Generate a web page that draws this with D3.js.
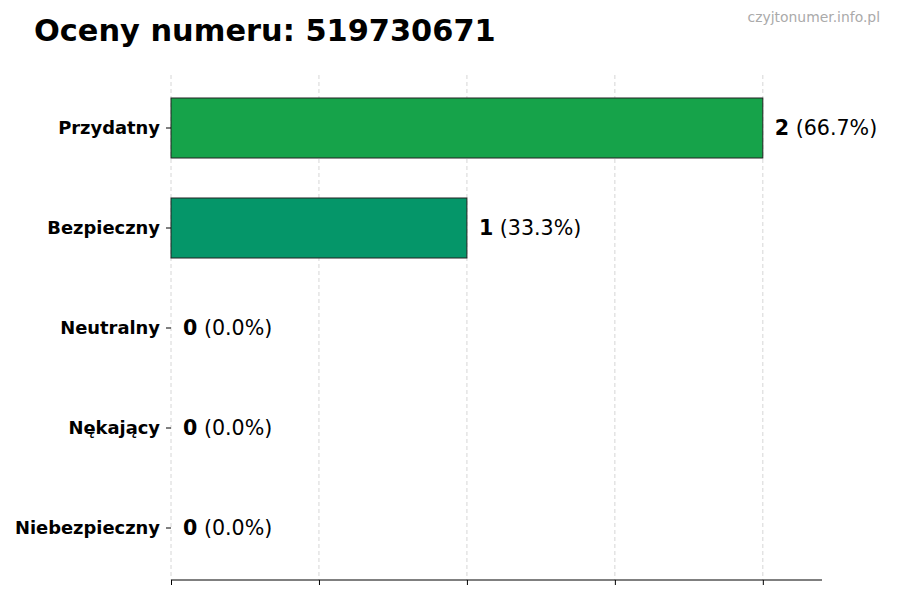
<!DOCTYPE html>
<html><head><meta charset="utf-8">
<script src="https://cdn.jsdelivr.net/npm/d3@7"></script>
<style>body{margin:0;background:#fff}svg{font-family:"DejaVu Sans",sans-serif}</style>
</head><body>
<svg id="c" width="900" height="600"></svg>
<script>
const categories = ["Przydatny","Bezpieczny","Neutralny","Nękający","Niebezpieczny"];
const counts = [2,1,0,0,0];
const percents = ["66.7%","33.3%","0.0%","0.0%","0.0%"];
const colors = ["#16a34a","#059669","#6b7280","#ea580c","#dc2626"];
const xTicks = [0,0.5,1,1.5,2];

const svg = d3.select("#c");
const x = d3.scaleLinear().domain([0,2.2]).range([171,822]);
const y = d3.scaleBand().domain(categories).range([78,578]).paddingInner(0.4).paddingOuter(0.2);

svg.append("text").attr("x",34).attr("y",41).attr("font-size",30.4).attr("font-weight","bold").text("Oceny numeru: 519730671");
svg.append("text").attr("x",880).attr("y",22).attr("text-anchor","end").attr("font-size",13.9).attr("fill","#aaa").text("czyjtonumer.info.pl");

svg.append("g").selectAll("line").data(xTicks).join("line")
  .attr("x1",d=>x(d)).attr("x2",d=>x(d)).attr("y1",75).attr("y2",580)
  .attr("stroke","#ccc").attr("stroke-dasharray","4,3").attr("stroke-width",0.8);

svg.append("g").selectAll("rect").data(categories).join("rect")
  .attr("x",x(0)).attr("y",d=>y(d)).attr("height",y.bandwidth())
  .attr("width",(d,i)=>x(counts[i])-x(0))
  .attr("fill",(d,i)=>colors[i]).attr("stroke","#222").attr("stroke-width",1);

const lab = svg.append("g").selectAll("text").data(categories).join("text")
  .attr("x",(d,i)=>x(counts[i])+12).attr("y",d=>y(d)+y.bandwidth()/2).attr("dy","0.35em")
  .attr("font-size",20.6);
lab.append("tspan").attr("font-weight","bold").text((d,i)=>counts[i]);
lab.append("tspan").text((d,i)=>" ("+percents[i]+")");

const ya = svg.append("g").attr("transform","translate(171,0)").call(d3.axisLeft(y).tickSize(5).tickPadding(6));
ya.select(".domain").remove();
ya.selectAll("text").attr("font-size",17.9).attr("font-weight","bold").attr("fill","#000").attr("font-family","DejaVu Sans");

const xa = svg.append("g").attr("transform","translate(0,580)").call(d3.axisBottom(x).tickValues(xTicks).tickSize(5).tickFormat(""));
xa.select(".domain").attr("d","M171,0H822");
</script>
</body></html>
